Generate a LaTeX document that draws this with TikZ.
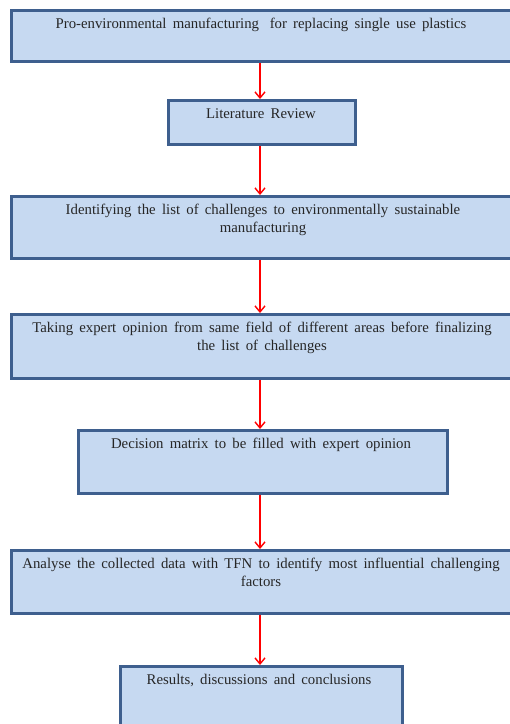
\documentclass[tikz,border=0pt]{standalone}
\usepackage{fontspec}
\setmainfont{Liberation Serif}
\usetikzlibrary{arrows.meta}
\definecolor{boxfill}{HTML}{C6D9F1}
\definecolor{boxline}{HTML}{3E5F8E}
\definecolor{arrowred}{HTML}{FF0000}
\begin{document}
\begin{tikzpicture}[x=1pt,y=-1pt,
  flowbox/.style={draw=boxline,fill=boxfill,line width=2.6pt,inner sep=0pt},
  boxtext/.style={anchor=north,inner sep=0pt,align=center,font=\fontsize{14.8}{18}\selectfont,text=black!85,execute at begin node={\spaceskip=0.42em plus 0.1em}},
  flowarrow/.style={draw=arrowred,line width=1.4pt,-{Straight Barb[length=6pt,width=10pt,line width=1.4pt]}}]
\useasboundingbox (0,0) rectangle (510,724);
\begin{scope}
\clip (0,0) rectangle (510,724);
\node[flowbox,minimum width=501pt,minimum height=51pt,anchor=north west] (b1) at (10,9) {};
\node[flowbox,minimum width=187pt,minimum height=44pt,anchor=north west] (b2) at (167,99) {};
\node[flowbox,minimum width=501pt,minimum height=62pt,anchor=north west] (b3) at (10,195) {};
\node[flowbox,minimum width=501pt,minimum height=64pt,anchor=north west] (b4) at (10,313) {};
\node[flowbox,minimum width=369pt,minimum height=63pt,anchor=north west] (b5) at (77,429) {};
\node[flowbox,minimum width=501pt,minimum height=63pt,anchor=north west] (b6) at (10,549) {};
\node[flowbox,minimum width=282pt,minimum height=70pt,anchor=north west] (b7) at (119,665) {};
\end{scope}
\node[boxtext] (t1) at (261,18) {Pro-environmental manufacturing\hspace{0.3em} for replacing single use plastics};
\node[boxtext] (t2) at (261,108) {Literature Review};
\node[boxtext] (t3) at (263,204) {Identifying the list of challenges to environmentally sustainable\\manufacturing};
\node[boxtext] (t4) at (262,322) {Taking expert opinion from same field of different areas before finalizing\\the list of challenges};
\node[boxtext] (t5) at (261,438) {Decision matrix to be filled with expert opinion};
\node[boxtext] (t6) at (261,558) {Analyse the collected data with TFN to identify most influential challenging\\factors};
\node[boxtext] (t7) at (259,674) {Results, discussions and conclusions};
\coordinate (ax) at (260,0);
\draw[flowarrow] (b1.south -| ax) -- (b2.north -| ax);
\draw[flowarrow] (b2.south -| ax) -- (b3.north -| ax);
\draw[flowarrow] (b3.south -| ax) -- (b4.north -| ax);
\draw[flowarrow] (b4.south -| ax) -- (b5.north -| ax);
\draw[flowarrow] (b5.south -| ax) -- (b6.north -| ax);
\draw[flowarrow] (b6.south -| ax) -- (b7.north -| ax);
\end{tikzpicture}
\end{document}
